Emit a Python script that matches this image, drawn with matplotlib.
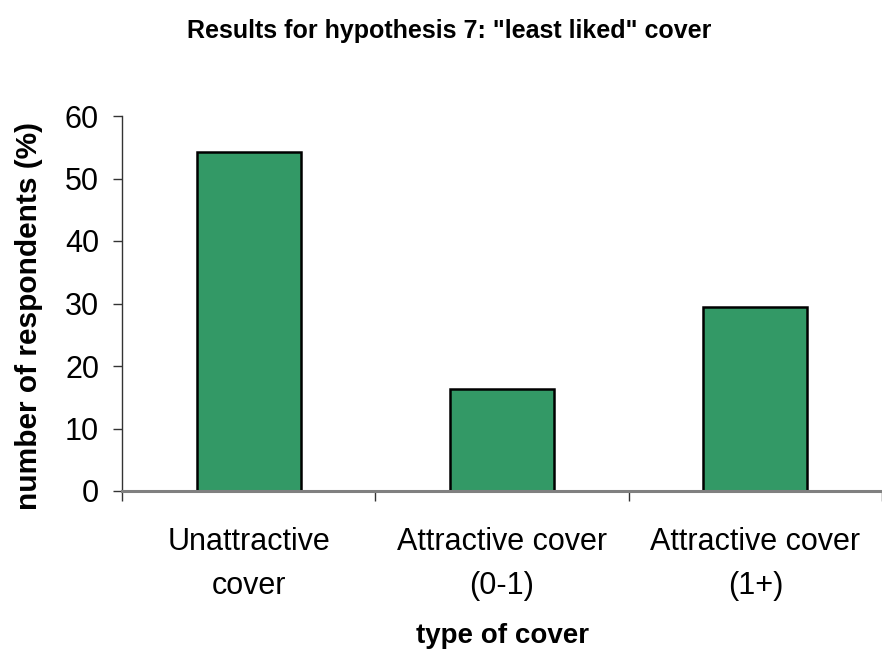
import matplotlib.pyplot as plt
import numpy as np

plt.rcParams['font.family'] = ['Liberation Sans', 'DejaVu Sans']

categories = ['Unattractive\ncover', 'Attractive cover\n(0-1)', 'Attractive cover\n(1+)']
percent = [54.3, 16.3, 29.4]

fig = plt.figure(figsize=(8.82, 6.51), dpi=100)
ax = fig.add_axes([122 / 882, 1 - 491 / 651, 760 / 882, 375 / 651])

x = np.arange(len(categories))
ax.bar(x, percent, width=0.41, color='#339966', edgecolor='black', linewidth=1.8, zorder=3)

ax.set_xlim(-0.5, 2.5)
ax.set_ylim(0, 60)
ax.set_yticks(range(0, 61, 10))
ax.tick_params(axis='y', direction='out', length=6.5, width=1, labelsize=22, pad=10, color='#333333')

# category ticks sit on the boundaries between bars
ax.set_xticks([-0.5, 0.5, 1.5, 2.5])
ax.set_xticklabels([])
ax.set_xticks(x, minor=True)
ax.set_xticklabels(categories, minor=True, fontsize=22, linespacing=1.6)
ax.tick_params(axis='x', which='major', direction='out', length=7, width=1, color='#333333')
ax.tick_params(axis='x', which='minor', length=0, pad=26)

for side in ['top', 'right']:
    ax.spines[side].set_visible(False)
ax.spines['left'].set_color('#333333')
ax.spines['left'].set_linewidth(1)
ax.spines['bottom'].set_color('#808080')
ax.spines['bottom'].set_linewidth(2.2)
ax.spines['bottom'].set_zorder(4)

ax.set_ylabel('number of respondents (%)', fontsize=21.5, fontweight='bold')
ax.yaxis.set_label_coords(-0.104, 0.467)
ax.set_xlabel('type of cover', fontsize=20, fontweight='bold', labelpad=16)
fig.text(0.509, 1 - 31 / 651, 'Results for hypothesis 7: "least liked" cover',
         ha='center', va='center', fontsize=18, fontweight='bold')

fig.savefig('out.png', dpi=100)
